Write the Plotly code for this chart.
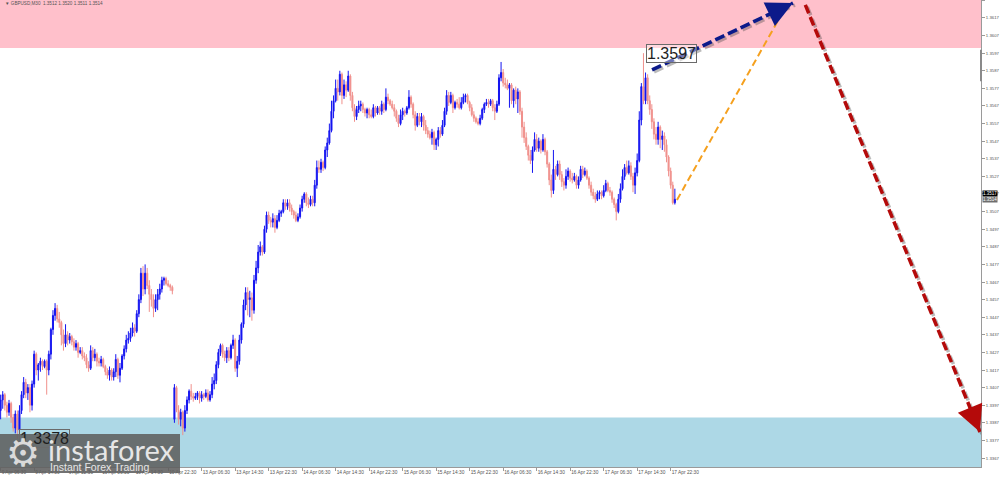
import plotly.graph_objects as go

# ---------------- DATA ----------------
# GBPUSD M30 candles, week of 9-10 Apr (before the weekend gap)
w1_open = [1.3394, 1.3400, 1.3403, 1.3397, 1.3393, 1.3398, 1.3390, 1.3384, 1.3392, 1.3383,
           1.3394, 1.3403, 1.3410, 1.3404, 1.3407, 1.3397, 1.3409, 1.3426, 1.3417, 1.3420,
           1.3422, 1.3419, 1.3422, 1.3417, 1.3426, 1.3440, 1.3448, 1.3452, 1.3446, 1.3444,
           1.3437, 1.3432, 1.3437, 1.3434, 1.3436, 1.3433, 1.3430, 1.3432, 1.3427, 1.3428,
           1.3425, 1.3424, 1.3420, 1.3418, 1.3428, 1.3424, 1.3426, 1.3422, 1.3421, 1.3423,
           1.3419, 1.3416, 1.3414, 1.3417, 1.3413, 1.3416, 1.3423, 1.3414, 1.3418, 1.3425,
           1.3429, 1.3434, 1.3435, 1.3438, 1.3441, 1.3439, 1.3449, 1.3457, 1.3472, 1.3463,
           1.3472, 1.3465, 1.3460, 1.3457, 1.3452, 1.3457, 1.3460, 1.3463, 1.3468, 1.3469,
           1.3466, 1.3465, 1.3464]
w1_high = [1.3403, 1.3405, 1.3404, 1.3399, 1.3400, 1.3399, 1.3392, 1.3394, 1.3394, 1.3397,
           1.3405, 1.3413, 1.3412, 1.3409, 1.3409, 1.3411, 1.3428, 1.3427, 1.3421, 1.3424,
           1.3423, 1.3423, 1.3423, 1.3428, 1.3441, 1.3451, 1.3455, 1.3454, 1.3450, 1.3445,
           1.3440, 1.3443, 1.3439, 1.3438, 1.3437, 1.3435, 1.3434, 1.3433, 1.3430, 1.3430,
           1.3427, 1.3426, 1.3422, 1.3431, 1.3430, 1.3429, 1.3427, 1.3424, 1.3425, 1.3424,
           1.3420, 1.3418, 1.3419, 1.3418, 1.3418, 1.3426, 1.3424, 1.3421, 1.3426, 1.3431,
           1.3437, 1.3439, 1.3441, 1.3444, 1.3443, 1.3451, 1.3460, 1.3475, 1.3476, 1.3477,
           1.3475, 1.3468, 1.3463, 1.3460, 1.3460, 1.3463, 1.3466, 1.3470, 1.3470, 1.3470,
           1.3468, 1.3466, 1.3465]
w1_low = [1.3389, 1.3395, 1.3394, 1.3390, 1.3391, 1.3387, 1.3382, 1.3381, 1.3378, 1.3382,
          1.3392, 1.3401, 1.3401, 1.3400, 1.3393, 1.3394, 1.3407, 1.3414, 1.3411, 1.3416,
          1.3417, 1.3418, 1.3403, 1.3414, 1.3423, 1.3437, 1.3445, 1.3444, 1.3441, 1.3431,
          1.3428, 1.3430, 1.3431, 1.3432, 1.3431, 1.3428, 1.3428, 1.3424, 1.3426, 1.3423,
          1.3422, 1.3418, 1.3416, 1.3417, 1.3422, 1.3422, 1.3419, 1.3419, 1.3419, 1.3418,
          1.3414, 1.3412, 1.3411, 1.3411, 1.3411, 1.3413, 1.3412, 1.3410, 1.3417, 1.3423,
          1.3427, 1.3432, 1.3433, 1.3436, 1.3436, 1.3438, 1.3447, 1.3455, 1.3459, 1.3460,
          1.3463, 1.3450, 1.3453, 1.3447, 1.3450, 1.3451, 1.3457, 1.3461, 1.3465, 1.3465,
          1.3464, 1.3462, 1.3460]
w1_close = [1.3400, 1.3403, 1.3397, 1.3393, 1.3398, 1.3390, 1.3384, 1.3392, 1.3383, 1.3394,
            1.3403, 1.3410, 1.3404, 1.3407, 1.3397, 1.3409, 1.3426, 1.3417, 1.3420, 1.3422,
            1.3419, 1.3422, 1.3417, 1.3426, 1.3440, 1.3448, 1.3452, 1.3446, 1.3444, 1.3437,
            1.3432, 1.3437, 1.3434, 1.3436, 1.3433, 1.3430, 1.3432, 1.3427, 1.3428, 1.3425,
            1.3424, 1.3420, 1.3418, 1.3428, 1.3424, 1.3426, 1.3422, 1.3421, 1.3423, 1.3419,
            1.3416, 1.3414, 1.3417, 1.3413, 1.3416, 1.3423, 1.3414, 1.3418, 1.3425, 1.3429,
            1.3434, 1.3435, 1.3438, 1.3441, 1.3439, 1.3449, 1.3457, 1.3472, 1.3463, 1.3472,
            1.3465, 1.3460, 1.3457, 1.3452, 1.3457, 1.3460, 1.3463, 1.3468, 1.3469, 1.3466,
            1.3465, 1.3464, 1.3462]

# week of 13-17 Apr
w2_open = [1.3389, 1.3407, 1.3394, 1.3389, 1.3393, 1.3384, 1.3394, 1.3400, 1.3405, 1.3402,
           1.3401, 1.3402, 1.3404, 1.3401, 1.3403, 1.3402, 1.3404, 1.3400, 1.3403, 1.3409,
           1.3411, 1.3420, 1.3427, 1.3431, 1.3426, 1.3424, 1.3428, 1.3424, 1.3431, 1.3434,
           1.3418, 1.3422, 1.3434, 1.3443, 1.3454, 1.3461, 1.3457, 1.3458, 1.3451, 1.3468,
           1.3475, 1.3484, 1.3487, 1.3484, 1.3497, 1.3505, 1.3502, 1.3501, 1.3503, 1.3498,
           1.3502, 1.3506, 1.3507, 1.3512, 1.3510, 1.3512, 1.3509, 1.3507, 1.3505, 1.3502,
           1.3504, 1.3509, 1.3514, 1.3517, 1.3512, 1.3511, 1.3514, 1.3512, 1.3522, 1.3532,
           1.3531, 1.3535, 1.3532, 1.3542, 1.3546, 1.3553, 1.3564, 1.3570, 1.3577, 1.3575,
           1.3585, 1.3573, 1.3579, 1.3576, 1.3584, 1.3573, 1.3566, 1.3561, 1.3565, 1.3567,
           1.3568, 1.3565, 1.3563, 1.3565, 1.3562, 1.3561, 1.3566, 1.3563, 1.3566, 1.3564,
           1.3568, 1.3565, 1.3572, 1.3570, 1.3568, 1.3566, 1.3564, 1.3560, 1.3557, 1.3562,
           1.3564, 1.3563, 1.3566, 1.3572, 1.3568, 1.3562, 1.3556, 1.3561, 1.3558, 1.3561,
           1.3556, 1.3553, 1.3551, 1.3549, 1.3552, 1.3545, 1.3548, 1.3553, 1.3551, 1.3556,
           1.3564, 1.3573, 1.3569, 1.3573, 1.3566, 1.3569, 1.3568, 1.3566, 1.3569, 1.3572,
           1.3573, 1.3569, 1.3566, 1.3562, 1.3560, 1.3558, 1.3557, 1.3560, 1.3565, 1.3568,
           1.3569, 1.3568, 1.3570, 1.3566, 1.3564, 1.3568, 1.3583, 1.3586, 1.3580, 1.3579,
           1.3577, 1.3579, 1.3570, 1.3576, 1.3571, 1.3575, 1.3564, 1.3555, 1.3549, 1.3544,
           1.3539, 1.3536, 1.3542, 1.3548, 1.3543, 1.3547, 1.3542, 1.3548, 1.3541, 1.3534,
           1.3525, 1.3519, 1.3531, 1.3528, 1.3534, 1.3528, 1.3524, 1.3522, 1.3527, 1.3530,
           1.3526, 1.3525, 1.3527, 1.3522, 1.3525, 1.3531, 1.3528, 1.3530, 1.3526, 1.3522,
           1.3518, 1.3516, 1.3514, 1.3517, 1.3518, 1.3516, 1.3519, 1.3523, 1.3519, 1.3518,
           1.3514, 1.3511, 1.3507, 1.3514, 1.3520, 1.3527, 1.3532, 1.3529, 1.3533, 1.3527,
           1.3522, 1.3529, 1.3536, 1.3559, 1.3578, 1.3570, 1.3583, 1.3570, 1.3565, 1.3558,
           1.3551, 1.3548, 1.3555, 1.3548, 1.3550, 1.3545, 1.3538, 1.3530, 1.3522, 1.3512]
w2_high = [1.3409, 1.3408, 1.3397, 1.3395, 1.3394, 1.3397, 1.3402, 1.3406, 1.3409, 1.3404,
           1.3404, 1.3405, 1.3405, 1.3405, 1.3404, 1.3406, 1.3406, 1.3405, 1.3413, 1.3415,
           1.3422, 1.3429, 1.3432, 1.3432, 1.3428, 1.3430, 1.3430, 1.3432, 1.3437, 1.3435,
           1.3425, 1.3437, 1.3444, 1.3457, 1.3464, 1.3464, 1.3462, 1.3461, 1.3471, 1.3479,
           1.3488, 1.3490, 1.3488, 1.3499, 1.3507, 1.3507, 1.3504, 1.3506, 1.3505, 1.3505,
           1.3508, 1.3508, 1.3514, 1.3514, 1.3514, 1.3514, 1.3511, 1.3508, 1.3507, 1.3506,
           1.3511, 1.3516, 1.3518, 1.3518, 1.3515, 1.3516, 1.3516, 1.3525, 1.3536, 1.3536,
           1.3537, 1.3536, 1.3544, 1.3549, 1.3557, 1.3570, 1.3573, 1.3582, 1.3582, 1.3587,
           1.3586, 1.3582, 1.3581, 1.3587, 1.3585, 1.3575, 1.3568, 1.3567, 1.3570, 1.3570,
           1.3569, 1.3566, 1.3566, 1.3566, 1.3565, 1.3568, 1.3567, 1.3567, 1.3567, 1.3570,
           1.3569, 1.3577, 1.3574, 1.3571, 1.3570, 1.3568, 1.3565, 1.3562, 1.3565, 1.3566,
           1.3565, 1.3567, 1.3576, 1.3573, 1.3569, 1.3564, 1.3563, 1.3563, 1.3563, 1.3562,
           1.3559, 1.3555, 1.3553, 1.3554, 1.3553, 1.3549, 1.3555, 1.3555, 1.3559, 1.3566,
           1.3576, 1.3575, 1.3575, 1.3574, 1.3570, 1.3571, 1.3572, 1.3572, 1.3574, 1.3574,
           1.3574, 1.3570, 1.3568, 1.3564, 1.3561, 1.3560, 1.3562, 1.3566, 1.3569, 1.3571,
           1.3571, 1.3571, 1.3571, 1.3568, 1.3570, 1.3585, 1.3592, 1.3588, 1.3583, 1.3582,
           1.3580, 1.3580, 1.3577, 1.3578, 1.3577, 1.3576, 1.3566, 1.3558, 1.3552, 1.3545,
           1.3542, 1.3544, 1.3552, 1.3551, 1.3549, 1.3548, 1.3551, 1.3549, 1.3542, 1.3535,
           1.3528, 1.3542, 1.3533, 1.3536, 1.3536, 1.3530, 1.3526, 1.3531, 1.3532, 1.3531,
           1.3529, 1.3529, 1.3528, 1.3527, 1.3533, 1.3533, 1.3532, 1.3531, 1.3527, 1.3524,
           1.3520, 1.3518, 1.3519, 1.3519, 1.3519, 1.3522, 1.3525, 1.3524, 1.3521, 1.3519,
           1.3515, 1.3512, 1.3517, 1.3523, 1.3531, 1.3534, 1.3536, 1.3536, 1.3535, 1.3529,
           1.3532, 1.3540, 1.3564, 1.3580, 1.3597, 1.3586, 1.3585, 1.3573, 1.3568, 1.3560,
           1.3555, 1.3558, 1.3556, 1.3553, 1.3552, 1.3548, 1.3539, 1.3532, 1.3524, 1.3520]
w2_low = [1.3387, 1.3393, 1.3386, 1.3385, 1.3380, 1.3382, 1.3392, 1.3398, 1.3400, 1.3399,
          1.3400, 1.3400, 1.3398, 1.3399, 1.3400, 1.3401, 1.3399, 1.3399, 1.3401, 1.3406,
          1.3409, 1.3418, 1.3425, 1.3424, 1.3422, 1.3421, 1.3422, 1.3423, 1.3429, 1.3416,
          1.3413, 1.3420, 1.3432, 1.3441, 1.3451, 1.3448, 1.3447, 1.3445, 1.3449, 1.3466,
          1.3472, 1.3482, 1.3482, 1.3483, 1.3495, 1.3500, 1.3498, 1.3498, 1.3495, 1.3497,
          1.3501, 1.3504, 1.3506, 1.3508, 1.3508, 1.3507, 1.3505, 1.3503, 1.3501, 1.3501,
          1.3503, 1.3507, 1.3512, 1.3510, 1.3509, 1.3510, 1.3510, 1.3510, 1.3520, 1.3529,
          1.3529, 1.3530, 1.3531, 1.3538, 1.3545, 1.3552, 1.3560, 1.3569, 1.3570, 1.3573,
          1.3568, 1.3571, 1.3572, 1.3575, 1.3570, 1.3564, 1.3558, 1.3559, 1.3563, 1.3564,
          1.3563, 1.3561, 1.3560, 1.3560, 1.3560, 1.3560, 1.3561, 1.3562, 1.3562, 1.3562,
          1.3563, 1.3564, 1.3568, 1.3567, 1.3565, 1.3561, 1.3558, 1.3555, 1.3556, 1.3559,
          1.3561, 1.3562, 1.3565, 1.3566, 1.3560, 1.3553, 1.3555, 1.3556, 1.3555, 1.3553,
          1.3551, 1.3549, 1.3548, 1.3545, 1.3542, 1.3542, 1.3544, 1.3549, 1.3550, 1.3555,
          1.3562, 1.3567, 1.3568, 1.3563, 1.3565, 1.3566, 1.3565, 1.3565, 1.3568, 1.3569,
          1.3568, 1.3564, 1.3561, 1.3558, 1.3557, 1.3556, 1.3556, 1.3559, 1.3563, 1.3567,
          1.3566, 1.3567, 1.3564, 1.3559, 1.3563, 1.3567, 1.3581, 1.3578, 1.3577, 1.3576,
          1.3566, 1.3568, 1.3566, 1.3568, 1.3563, 1.3562, 1.3549, 1.3546, 1.3542, 1.3536,
          1.3534, 1.3529, 1.3541, 1.3541, 1.3541, 1.3540, 1.3541, 1.3539, 1.3532, 1.3522,
          1.3515, 1.3517, 1.3525, 1.3527, 1.3525, 1.3521, 1.3519, 1.3520, 1.3525, 1.3524,
          1.3523, 1.3524, 1.3520, 1.3520, 1.3524, 1.3526, 1.3527, 1.3525, 1.3520, 1.3516,
          1.3514, 1.3512, 1.3513, 1.3514, 1.3514, 1.3515, 1.3518, 1.3518, 1.3516, 1.3512,
          1.3509, 1.3502, 1.3506, 1.3512, 1.3519, 1.3525, 1.3528, 1.3528, 1.3525, 1.3518,
          1.3517, 1.3527, 1.3535, 1.3556, 1.3568, 1.3568, 1.3568, 1.3562, 1.3554, 1.3548,
          1.3545, 1.3545, 1.3543, 1.3542, 1.3541, 1.3535, 1.3527, 1.3520, 1.3511, 1.3511]
w2_close = [1.3407, 1.3394, 1.3389, 1.3393, 1.3384, 1.3394, 1.3400, 1.3405, 1.3402, 1.3401,
            1.3402, 1.3404, 1.3401, 1.3403, 1.3402, 1.3404, 1.3400, 1.3403, 1.3409, 1.3411,
            1.3420, 1.3427, 1.3431, 1.3426, 1.3424, 1.3428, 1.3424, 1.3431, 1.3434, 1.3418,
            1.3422, 1.3434, 1.3443, 1.3454, 1.3461, 1.3457, 1.3458, 1.3451, 1.3468, 1.3475,
            1.3484, 1.3487, 1.3484, 1.3497, 1.3505, 1.3502, 1.3501, 1.3503, 1.3498, 1.3502,
            1.3506, 1.3507, 1.3512, 1.3510, 1.3512, 1.3509, 1.3507, 1.3505, 1.3502, 1.3504,
            1.3509, 1.3514, 1.3517, 1.3512, 1.3511, 1.3514, 1.3512, 1.3522, 1.3532, 1.3531,
            1.3535, 1.3532, 1.3542, 1.3546, 1.3553, 1.3564, 1.3570, 1.3577, 1.3575, 1.3585,
            1.3573, 1.3579, 1.3576, 1.3584, 1.3573, 1.3566, 1.3561, 1.3565, 1.3567, 1.3568,
            1.3565, 1.3563, 1.3565, 1.3562, 1.3561, 1.3566, 1.3563, 1.3566, 1.3564, 1.3568,
            1.3565, 1.3572, 1.3570, 1.3568, 1.3566, 1.3564, 1.3560, 1.3557, 1.3562, 1.3564,
            1.3563, 1.3566, 1.3572, 1.3568, 1.3562, 1.3556, 1.3561, 1.3558, 1.3561, 1.3556,
            1.3553, 1.3551, 1.3549, 1.3552, 1.3545, 1.3548, 1.3553, 1.3551, 1.3556, 1.3564,
            1.3573, 1.3569, 1.3573, 1.3566, 1.3569, 1.3568, 1.3566, 1.3569, 1.3572, 1.3573,
            1.3569, 1.3566, 1.3562, 1.3560, 1.3558, 1.3557, 1.3560, 1.3565, 1.3568, 1.3569,
            1.3568, 1.3570, 1.3566, 1.3564, 1.3568, 1.3583, 1.3586, 1.3580, 1.3579, 1.3577,
            1.3579, 1.3570, 1.3576, 1.3571, 1.3575, 1.3564, 1.3555, 1.3549, 1.3544, 1.3539,
            1.3536, 1.3542, 1.3548, 1.3543, 1.3547, 1.3542, 1.3548, 1.3541, 1.3534, 1.3525,
            1.3519, 1.3531, 1.3528, 1.3534, 1.3528, 1.3524, 1.3522, 1.3527, 1.3530, 1.3526,
            1.3525, 1.3527, 1.3522, 1.3525, 1.3531, 1.3528, 1.3530, 1.3526, 1.3522, 1.3518,
            1.3516, 1.3514, 1.3517, 1.3518, 1.3516, 1.3519, 1.3523, 1.3519, 1.3518, 1.3514,
            1.3511, 1.3507, 1.3514, 1.3520, 1.3527, 1.3532, 1.3529, 1.3533, 1.3527, 1.3522,
            1.3529, 1.3536, 1.3559, 1.3578, 1.3570, 1.3583, 1.3570, 1.3565, 1.3558, 1.3551,
            1.3548, 1.3555, 1.3548, 1.3550, 1.3545, 1.3538, 1.3530, 1.3522, 1.3512, 1.3514]

# bar numbers (0 = 13 Apr 06:30), one per M30 candle
first_bar = -96
tick_bars = list(range(-96, 225, 16))
tick_text = ["9 Apr 06:30", "9 Apr 14:30", "9 Apr 22:30", "10 Apr 06:30", "10 Apr 14:30",
             "10 Apr 22:30", "13 Apr 06:30", "13 Apr 14:30", "13 Apr 22:30", "14 Apr 06:30",
             "14 Apr 14:30", "14 Apr 22:30", "15 Apr 06:30", "15 Apr 14:30", "15 Apr 22:30",
             "16 Apr 06:30", "16 Apr 14:30", "16 Apr 22:30", "17 Apr 06:30", "17 Apr 14:30",
             "17 Apr 22:30"]
price_ticks = [1.3367, 1.3377, 1.3387, 1.3397, 1.3407, 1.3417, 1.3427, 1.3437, 1.3447,
               1.3457, 1.3467, 1.3477, 1.3487, 1.3497, 1.3507, 1.3517, 1.3527, 1.3537,
               1.3547, 1.3557, 1.3567, 1.3577, 1.3587, 1.3597, 1.3607, 1.3617, 1.3627]

# zones and marked extremes
resistance_zone_low = 1.3600
support_zone_high = 1.3390
high_mark = (211, 1.3597)
low_mark = (-88, 1.3378)
ask_price = 1.3517
bid_price = 1.3514

# forecast wave paths (bar number, price)
wave_main_bar = [215.1, 282.4]
wave_main_price = [1.35875, 1.36255]
wave_alt_bar = [227.0, 278.1]
wave_alt_price = [1.35136, 1.36215]
wave_down_bar = [288.3, 371.7]
wave_down_price = [1.36244, 1.33818]

header = "GBPUSD,M30  1.3512 1.3520 1.3511 1.3514"

# ---------------- FIGURE ----------------
bar_open = w1_open + w2_open
bar_high = w1_high + w2_high
bar_low = w1_low + w2_low
bar_close = w1_close + w2_close
bar_index = list(range(first_bar, first_bar + len(bar_close)))

W, H = 1000, 479
M_L, M_R, M_T, M_B = 0, 19, 0, 12
PW, PH = W - M_L - M_R, H - M_T - M_B
x_range = [-96.3, 372.2]
y_range = [1.33619, 1.36272]
px_per_bar = PW / (x_range[1] - x_range[0])
px_per_price = PH / (y_range[1] - y_range[0])

fig = go.Figure()

fig.add_trace(go.Candlestick(
    x=bar_index, open=bar_open, high=bar_high, low=bar_low, close=bar_close,
    increasing=dict(line=dict(color="#1414f0", width=1), fillcolor="#1414f0"),
    decreasing=dict(line=dict(color="#f0908c", width=1), fillcolor="#f0908c"),
    whiskerwidth=0, showlegend=False, hoverinfo="skip"))


def dashed(xs, ys, color, width, dash, shadow=False):
    if shadow:
        sx = 2 / px_per_bar
        sy = 2 / px_per_price
        fig.add_trace(go.Scatter(
            x=[v + sx for v in xs], y=[v - sy for v in ys], mode="lines",
            line=dict(color="rgba(60,60,60,0.35)", width=width, dash=dash),
            showlegend=False, hoverinfo="skip"))
    fig.add_trace(go.Scatter(
        x=xs, y=ys, mode="lines", line=dict(color=color, width=width, dash=dash),
        showlegend=False, hoverinfo="skip"))


NAVY = "#0c1a8a"
RED = "#b40a0a"
ORANGE = "#f5a01e"

dashed(wave_main_bar, wave_main_price, NAVY, 3.5, "10px,4px", shadow=True)
dashed(wave_alt_bar, wave_alt_price, ORANGE, 2, "7px,4px")
dashed(wave_down_bar, wave_down_price, RED, 3.5, "9px,4px", shadow=True)

annotations = []


def arrow_head(xs, ys, color):
    fx = xs[1] - 0.06 * (xs[1] - xs[0])
    fy = ys[1] - 0.06 * (ys[1] - ys[0])
    annotations.append(dict(
        x=xs[1], y=ys[1], ax=fx, ay=fy, xref="x", yref="y", axref="x", ayref="y",
        text="", showarrow=True, arrowhead=2, arrowsize=1.5, arrowwidth=3.5,
        arrowcolor=color, standoff=0))


arrow_head(wave_main_bar, wave_main_price, NAVY)
arrow_head(wave_down_bar, wave_down_price, RED)

shapes = [
    dict(type="rect", xref="paper", yref="y", x0=0, x1=1,
         y0=resistance_zone_low, y1=y_range[1], fillcolor="#ffc0cb",
         line=dict(width=0), layer="below"),
    dict(type="rect", xref="paper", yref="y", x0=0, x1=1,
         y0=y_range[0], y1=support_zone_high, fillcolor="#add8e6",
         line=dict(width=0), layer="below"),
    dict(type="line", xref="paper", yref="y", x0=1, x1=1, y0=1.3581, y1=1.3599,
         line=dict(color="#8a8a8a", width=2)),
]

LABEL_FONT = dict(family="Liberation Sans, Arial", size=16, color="#1e1e1e")
annotations.append(dict(
    x=high_mark[0], y=high_mark[1], xref="x", yref="y", text=f"{high_mark[1]:.4f}",
    showarrow=False, xanchor="left", yanchor="middle", xshift=3,
    font=LABEL_FONT, bordercolor="#6a6a6a", borderwidth=1, borderpad=0,
    bgcolor="rgba(255,255,255,0.4)"))
annotations.append(dict(
    x=low_mark[0], y=low_mark[1], xref="x", yref="y", text=f"{low_mark[1]:.4f}",
    showarrow=False, xanchor="left", yanchor="middle", xshift=2,
    font=LABEL_FONT, bordercolor="#6a6a6a", borderwidth=1, borderpad=0,
    bgcolor="rgba(255,255,255,0)"))

# price markers on the scale
annotations.append(dict(
    x=1, y=ask_price, xref="paper", yref="y", text=f"{ask_price:.4f}",
    showarrow=False, xanchor="left", yanchor="middle", xshift=1,
    font=dict(family="Liberation Sans, Arial", size=4.5, color="white"),
    bgcolor="#000000", borderpad=0))
annotations.append(dict(
    x=1, y=bid_price, xref="paper", yref="y", text=f"{bid_price:.4f}",
    showarrow=False, xanchor="left", yanchor="middle", xshift=1,
    font=dict(family="Liberation Sans, Arial", size=4.5, color="white"),
    bgcolor="#6e6e6e", borderpad=0))

# header
annotations.append(dict(
    x=3 / PW, y=1 - 4 / PH, xref="paper", yref="paper", text="\u25BC " + header,
    showarrow=False, xanchor="left", yanchor="middle",
    font=dict(family="Liberation Sans, Arial", size=4.6, color="#555555")))

# watermark logo
shapes.append(dict(type="rect", xref="paper", yref="paper", x0=0, x1=180 / PW,
                   y0=1 - 473 / PH, y1=1 - 434 / PH,
                   fillcolor="rgba(95,95,95,0.88)", line=dict(width=0), layer="above"))
annotations.append(dict(
    x=23 / PW, y=1 - 453 / PH, xref="paper", yref="paper", text="\u2699",
    showarrow=False, xanchor="center", yanchor="middle",
    font=dict(family="DejaVu Sans", size=38, color="#dadada")))
annotations.append(dict(
    x=46 / PW, y=1 - 449 / PH, xref="paper", yref="paper", text="instaforex",
    showarrow=False, xanchor="left", yanchor="middle",
    font=dict(family="Lato, Liberation Sans", size=29, color="#e6e6e6")))
annotations.append(dict(
    x=48 / PW, y=1 - 467 / PH, xref="paper", yref="paper", text="Instant Forex Trading",
    showarrow=False, xanchor="left", yanchor="middle",
    font=dict(family="Liberation Sans, Arial", size=10.5, color="#e6e6e6")))

fig.update_layout(
    width=W, height=H,
    margin=dict(l=M_L, r=M_R, t=M_T, b=M_B, pad=0),
    paper_bgcolor="white", plot_bgcolor="white",
    showlegend=False,
    shapes=shapes, annotations=annotations,
    xaxis=dict(
        range=x_range, rangeslider=dict(visible=False), showgrid=False, zeroline=False,
        tickmode="array", tickvals=tick_bars, ticktext=tick_text, tickangle=0,
        ticks="outside", ticklen=3, tickcolor="#9a9a9a",
        ticklabelposition="outside right",
        tickfont=dict(family="Liberation Sans, Arial", size=4.8, color="#555555"),
        showline=True, linecolor="#9a9a9a", linewidth=1),
    yaxis=dict(
        range=y_range, side="right", showgrid=False, zeroline=False,
        tickmode="array", tickvals=price_ticks, tickformat=".4f",
        ticks="outside", ticklen=3, tickcolor="#9a9a9a",
        tickfont=dict(family="Liberation Sans, Arial", size=4.3, color="#555555"),
        showline=True, linecolor="#9a9a9a", linewidth=1),
)

fig.write_html("out.html", config={"displayModeBar": False},
               post_script="document.body.style.margin='0';")
